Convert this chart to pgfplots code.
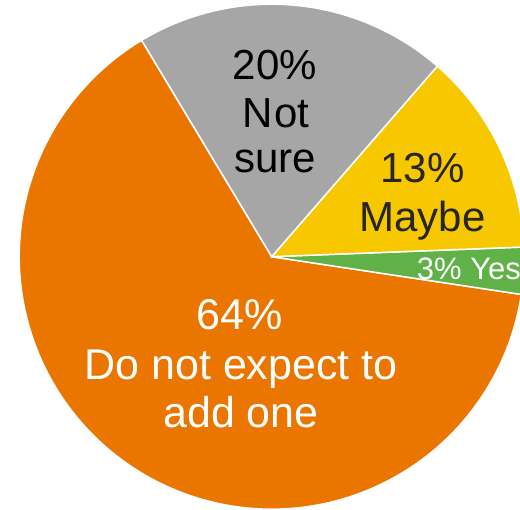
\documentclass[border=0pt]{standalone}
\usepackage{pgfplots}
\pgfplotsset{compat=1.18}
\usepackage{fontspec}
\setmainfont{Liberation Sans}
\definecolor{cOrange}{RGB}{234,118,0}
\definecolor{cGray}{RGB}{166,166,166}
\definecolor{cYellow}{RGB}{247,199,0}
\definecolor{cGreen}{RGB}{96,178,72}
\definecolor{cDark}{RGB}{38,38,38}
% data (percent)
\def\vNo{64}\def\vYes{3}\def\vMaybe{13}\def\vNotSure{20}
\def\startangle{121}
\def\cx{271.7}\def\cy{253.3}\def\rr{252.5}
\pgfmathsetmacro{\aA}{\startangle}
\pgfmathsetmacro{\aB}{\aA+3.6*\vNo}
\pgfmathsetmacro{\aC}{\aB+3.6*\vYes}
\pgfmathsetmacro{\aD}{\aC+3.6*\vMaybe}
\pgfmathsetmacro{\aE}{\aD+3.6*\vNotSure}
\begin{document}
\begin{tikzpicture}
\begin{axis}[
  scale only axis, width=520pt, height=510pt,
  xmin=0, xmax=520, ymin=0, ymax=510,
  hide axis, clip=true,
]
\addplot[fill=cOrange, draw=white, line width=1.5pt, domain=\aA:\aB, samples=150]
  ({\cx+\rr*cos(x)},{\cy+\rr*sin(x)}) -- (axis cs:\cx,\cy) -- cycle;
\addplot[fill=cGreen, draw=white, line width=1.5pt, domain=\aB:\aC, samples=20]
  ({\cx+\rr*cos(x)},{\cy+\rr*sin(x)}) -- (axis cs:\cx,\cy) -- cycle;
\addplot[fill=cYellow, draw=white, line width=1.5pt, domain=\aC:\aD, samples=60]
  ({\cx+\rr*cos(x)},{\cy+\rr*sin(x)}) -- (axis cs:\cx,\cy) -- cycle;
\addplot[fill=cGray, draw=white, line width=1.5pt, domain=\aD:\aE, samples=80]
  ({\cx+\rr*cos(x)},{\cy+\rr*sin(x)}) -- (axis cs:\cx,\cy) -- cycle;
% labels
\begin{scope}[every node/.style={anchor=base, inner sep=0pt, font=\fontsize{42}{48}\selectfont}]
\node[text=black] at (axis cs:275,430) {20\%};
\node[text=black] at (axis cs:276,382) {N\kern1.5pt ot};
\node[text=black] at (axis cs:275,337) {sure};
\node[text=cDark] at (axis cs:422.5,327) {13\%};
\node[text=cDark] at (axis cs:422.5,278) {Maybe};
\node[text=white, font=\fontsize{43}{49}\selectfont] at (axis cs:240,180) {64\%};
\node[text=white, font=\fontsize{43}{49}\selectfont] at (axis cs:241,130) {Do not expect to};
\node[text=white, font=\fontsize{43}{49}\selectfont] at (axis cs:241,82) {add one};
\node[text=white, anchor=base west, font=\fontsize{31}{35}\selectfont] at (axis cs:416.7,230) {3\% Yes};
\end{scope}
\end{axis}
\pgfresetboundingbox
\useasboundingbox (current axis.south west) rectangle (current axis.north east);
\end{tikzpicture}
\end{document}
